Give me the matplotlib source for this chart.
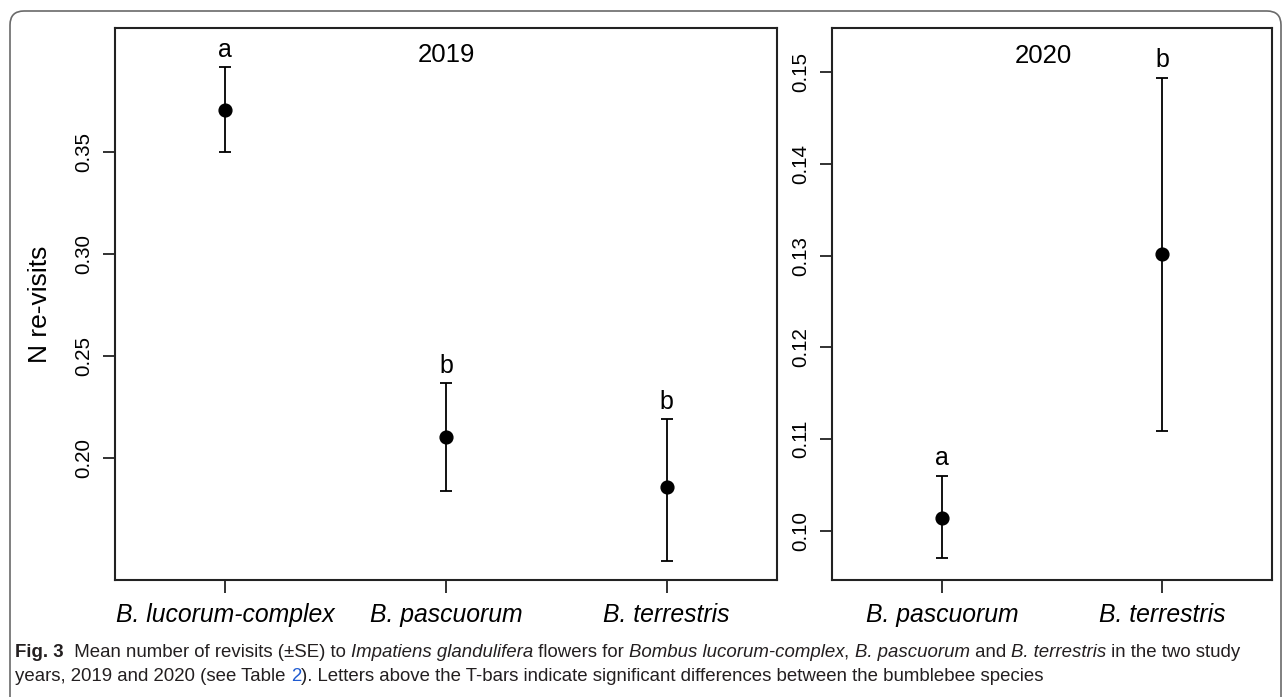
import matplotlib
matplotlib.use("Agg")
import numpy as np
import matplotlib.pyplot as plt
from matplotlib.patches import FancyBboxPatch
from matplotlib.transforms import IdentityTransform
from matplotlib import font_manager

# ---------------- data ----------------
species_2019 = ["B. lucorum-complex", "B. pascuorum", "B. terrestris"]
mean_2019 = [0.3706, 0.2103, 0.1858]
lower_2019 = [0.3500, 0.1838, 0.1495]
upper_2019 = [0.3917, 0.2368, 0.2191]
letters_2019 = ["a", "b", "b"]
yticks_2019 = [0.20, 0.25, 0.30, 0.35]

species_2020 = ["B. pascuorum", "B. terrestris"]
mean_2020 = [0.1014, 0.1302]
lower_2020 = [0.0971, 0.1109]
upper_2020 = [0.1060, 0.1494]
letters_2020 = ["a", "b"]
yticks_2020 = [0.10, 0.11, 0.12, 0.13, 0.14, 0.15]

# ---------------- figure ----------------
W, H = 1285, 697
plt.rcParams["font.family"] = ["Liberation Sans", "DejaVu Sans"]
fig = plt.figure(figsize=(W / 100, H / 100), dpi=100)
fig.patch.set_facecolor("white")

# outer rounded frame (open at the bottom)
frame = FancyBboxPatch((10, -40), 1271, H - 11 + 40,
                       boxstyle="round,pad=0,rounding_size=14",
                       transform=IdentityTransform(), fill=False,
                       edgecolor="#6a6a6a", linewidth=1.2, zorder=0)
fig.patches.append(frame)

ax1 = fig.add_axes([115 / W, 1 - 580 / H, 662 / W, 552 / H])
ax2 = fig.add_axes([832 / W, 1 - 580 / H, 440 / W, 552 / H])


def panel(ax, species, mean, lower, upper, letters, yticks, ylim, title, title_xy):
    x = np.arange(1, len(species) + 1)
    mean = np.array(mean)
    yerr = [mean - np.array(lower), np.array(upper) - mean]
    ax.errorbar(x, mean, yerr=yerr, fmt="o", color="black", ms=9.2,
                capsize=4.6, elinewidth=1.3, capthick=1.3, zorder=3)
    for xi, up, let in zip(x, upper, letters):
        ax.annotate(let, xy=(xi, up), xytext=(0, 7.5), textcoords="offset points",
                    ha="center", va="baseline", fontsize=18)
    ax.text(title_xy[0], title_xy[1], title, ha="center", va="center", fontsize=18.5)
    ax.set_xlim(0.5, len(species) + 0.5)
    ax.set_ylim(*ylim)
    ax.set_xticks(x)
    ax.set_xticklabels(species, fontstyle="italic", fontsize=17.8)
    ax.set_yticks(yticks)
    ax.set_yticklabels([f"{v:.2f}" for v in yticks], fontsize=14.8)
    ax.tick_params(axis="y", labelrotation=90, length=8.6, width=1.3, pad=7,
                   color="#222222")
    ax.tick_params(axis="x", length=9.3, width=1.3, pad=7, color="#222222")
    for lbl in ax.get_yticklabels():
        lbl.set_va("center")
    for s in ax.spines.values():
        s.set_linewidth(1.5)
        s.set_color("#222222")


panel(ax1, species_2019, mean_2019, lower_2019, upper_2019, letters_2019,
      yticks_2019, (0.1402, 0.4108), "2019", (2.0, 0.3975))
panel(ax2, species_2020, mean_2020, lower_2020, upper_2020, letters_2020,
      yticks_2020, (0.09466, 0.1548), "2020", (1.46, 0.1517))

fig.text(40 / W, 1 - 304 / H, "N re-visits", rotation=90, ha="center",
         va="center", fontsize=19)

# ---------------- caption ----------------
names = {f.name for f in font_manager.fontManager.ttflist}
cap_font = "Liberation Sans Narrow" if "Liberation Sans Narrow" in names else "Liberation Sans"

line1 = [("Fig. 3", "bold"), ("  Mean number of revisits (\u00b1SE) to ", "normal"),
         ("Impatiens glandulifera", "italic"), (" flowers for ", "normal"),
         ("Bombus lucorum-complex", "italic"), (", ", "normal"),
         ("B. pascuorum", "italic"), (" and ", "normal"),
         ("B. terrestris", "italic"), (" in the two study", "normal")]
line2 = [("years, 2019 and 2020 (see Table ", "normal"), ("2", "link"),
         ("). Letters above the T-bars indicate significant differences between the bumblebee species", "normal")]

fig.canvas.draw()
renderer = fig.canvas.get_renderer()


def props(style, size):
    d = dict(fontsize=size, family=[cap_font, "DejaVu Sans"], color="#231f20")
    if style == "bold":
        d["fontweight"] = "bold"
    elif style == "italic":
        d["fontstyle"] = "italic"
    elif style == "link":
        d["color"] = "#1f5bd1"
    return d


def width(text, style, size):
    t1 = fig.text(0, 0, "|" + text + "|", **props(style, size))
    t2 = fig.text(0, 0, "||", **props(style, size))
    w = t1.get_window_extent(renderer).width - t2.get_window_extent(renderer).width
    t1.remove()
    t2.remove()
    return w


base = 10.0
w1 = sum(width(t, s, base) for t, s in line1)
cap_size = base * (1250 - 15) / w1


def draw_line(runs, x0, ybase):
    x = x0
    for t, s in runs:
        fig.text(x / W, 1 - ybase / H, t, ha="left", va="baseline", **props(s, cap_size))
        x += width(t, s, cap_size)


draw_line(line1, 15, 657)
draw_line(line2, 15, 681)

fig.savefig("out.png", dpi=100, facecolor="white")
